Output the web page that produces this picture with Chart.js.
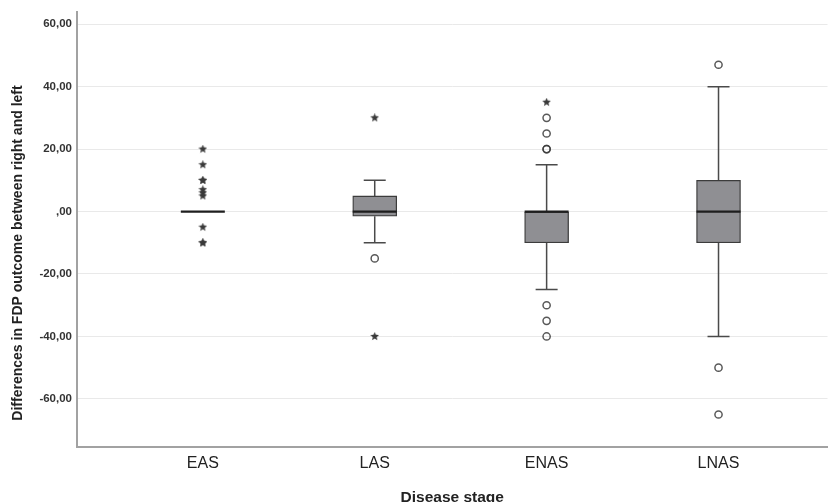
<!DOCTYPE html>
<html lang="en">
<head>
    <meta charset="UTF-8">
    <title>Differences in FDP outcome by disease stage</title>
    <script src="https://cdn.jsdelivr.net/npm/chart.js@4.4.0/dist/chart.umd.min.js"></script>
    <style>
        html, body { margin: 0; padding: 0; background: #fff; }
        #wrap { width: 833px; height: 502px; }
    </style>
</head>
<body>
<div id="wrap"><canvas id="boxChart" width="833" height="502"></canvas></div>

<script>
    // boxplot data
    const stages = ['EAS', 'LAS', 'ENAS', 'LNAS'];
    const whiskerLow  = [0, -10, -25, -40];
    const q1          = [0, -1.5, -10, -10];
    const median      = [0, 0, 0, 0];
    const q3          = [0, 5, 0, 10];
    const whiskerHigh = [0, 10, 15, 40];
    // outliers (circles) and extremes (stars) per stage
    const circleOutliers = [
        [],
        [-15],
        [30, 25, 20, 20, -30, -35, -40],
        [47, -50, -65]
    ];
    const starOutliers = [
        [20, 15, 10, 10, 7, 6, 5, -5, -10, -10],
        [30, -40],
        [35],
        []
    ];
    const yTicks = [-60, -40, -20, 0, 20, 40, 60];
    const yTitle = 'Differences in FDP outcome between right and left';

    // small filled star used for the extreme values
    function makeStar(size, color) {
        const c = document.createElement('canvas');
        c.width = size; c.height = size;
        const g = c.getContext('2d');
        const cx = size / 2, cy = size / 2, R = size / 2, r = R * 0.45;
        g.beginPath();
        for (let k = 0; k < 10; k++) {
            const rad = k % 2 === 0 ? R : r;
            const a = -Math.PI / 2 + k * Math.PI / 5;
            g.lineTo(cx + rad * Math.cos(a), cy + rad * Math.sin(a));
        }
        g.closePath();
        g.fillStyle = color;
        g.fill();
        return c;
    }
    const starImg = makeStar(9, '#3a3a3a');

    const fmt = v => {
        const s = Math.abs(v).toFixed(2).replace('.', ',');
        const t = Math.abs(v) < 1e-9 ? ',00' : s;
        return (v < 0 ? '-' : '') + t;
    };

    const BOX_W = 44, CAP_W = 22;
    const FONT = 'Liberation Sans, Arial, sans-serif';

    // whiskers, caps and medians drawn through the chart's scales
    const boxParts = {
        id: 'boxParts',
        beforeDatasetsDraw(chart) {
            const ctx = chart.ctx, xs = chart.scales.x, ys = chart.scales.y;
            ctx.save();
            ctx.strokeStyle = '#4a4a4a';
            ctx.lineWidth = 1.5;
            stages.forEach((s, i) => {
                if (whiskerHigh[i] === whiskerLow[i]) return;
                const x = xs.getPixelForValue(i + 1);
                ctx.beginPath();
                ctx.moveTo(x, ys.getPixelForValue(q3[i]));
                ctx.lineTo(x, ys.getPixelForValue(whiskerHigh[i]));
                ctx.moveTo(x, ys.getPixelForValue(q1[i]));
                ctx.lineTo(x, ys.getPixelForValue(whiskerLow[i]));
                ctx.moveTo(x - CAP_W / 2, ys.getPixelForValue(whiskerHigh[i]));
                ctx.lineTo(x + CAP_W / 2, ys.getPixelForValue(whiskerHigh[i]));
                ctx.moveTo(x - CAP_W / 2, ys.getPixelForValue(whiskerLow[i]));
                ctx.lineTo(x + CAP_W / 2, ys.getPixelForValue(whiskerLow[i]));
                ctx.stroke();
            });
            ctx.restore();
        },
        afterDatasetDraw(chart, args) {
            if (args.index !== 0) return;
            const ctx = chart.ctx, xs = chart.scales.x, ys = chart.scales.y;
            ctx.save();
            ctx.strokeStyle = '#1e1e1e';
            ctx.lineWidth = 2.2;
            stages.forEach((s, i) => {
                const x = xs.getPixelForValue(i + 1);
                const y = ys.getPixelForValue(median[i]);
                ctx.beginPath();
                ctx.moveTo(x - BOX_W / 2, y);
                ctx.lineTo(x + BOX_W / 2, y);
                ctx.stroke();
            });
            ctx.restore();
        },
        // SPSS places the vertical title a bit below the plot centre
        afterDraw(chart) {
            const ctx = chart.ctx;
            ctx.save();
            ctx.translate(18.5, 253);
            ctx.rotate(-Math.PI / 2);
            ctx.font = 'bold 14px ' + FONT;
            ctx.fillStyle = '#222';
            ctx.textAlign = 'center';
            ctx.textBaseline = 'middle';
            ctx.fillText(yTitle, 0, 0);
            ctx.restore();
        }
    };

    const boxData = stages.map((s, i) => ({ x: i + 1, y: [q1[i], q3[i]] }));
    const circlePts = [], starPts = [];
    stages.forEach((s, i) => {
        circleOutliers[i].forEach(v => circlePts.push({ x: i + 1, y: v }));
        starOutliers[i].forEach(v => starPts.push({ x: i + 1, y: v }));
    });

    new Chart(document.getElementById('boxChart'), {
        type: 'bar',
        data: {
            datasets: [{
                type: 'bar',
                data: boxData,
                backgroundColor: '#8f8f93',
                borderColor: '#3c3c3c',
                borderWidth: 1.3,
                borderSkipped: false,
                barThickness: BOX_W
            }, {
                type: 'scatter',
                data: circlePts,
                pointStyle: 'circle',
                pointRadius: 3.6,
                pointBorderWidth: 1.5,
                pointBorderColor: 'rgba(60,60,60,0.85)',
                pointBackgroundColor: 'rgba(0,0,0,0)'
            }, {
                type: 'scatter',
                data: starPts,
                pointStyle: starImg,
                pointRadius: 4.5
            }]
        },
        options: {
            responsive: false,
            animation: false,
            layout: { padding: { top: 12, right: 0, left: 0, bottom: 0 } },
            plugins: { legend: { display: false }, tooltip: { enabled: false } },
            scales: {
                x: {
                    type: 'linear',
                    min: 0.268,
                    max: 4.634,
                    offset: false,
                    afterBuildTicks: sc => { sc.ticks = stages.map((s, i) => ({ value: i + 1 })); },
                    afterFit: sc => { sc.height = 55; },
                    grid: { display: false, drawTicks: false },
                    border: { display: true, color: '#a2a2a2', width: 2 },
                    ticks: {
                        callback: v => stages[v - 1],
                        color: '#222',
                        font: { family: FONT, size: 16 },
                        padding: 7,
                        maxRotation: 0,
                        autoSkip: false
                    },
                    title: {
                        display: true,
                        text: 'Disease stage',
                        color: '#222',
                        font: { family: FONT, size: 15.5, weight: 'bold' },
                        padding: { top: 17, bottom: -5 }
                    }
                },
                y: {
                    min: -75.4,
                    max: 63.9,
                    afterBuildTicks: sc => { sc.ticks = yTicks.map(v => ({ value: v })); },
                    afterFit: sc => { sc.width = 77; },
                    grid: { color: '#e9e9e9', lineWidth: 1, drawTicks: false },
                    border: { display: true, color: '#a2a2a2', width: 2 },
                    ticks: {
                        callback: v => fmt(v),
                        color: '#333',
                        font: { family: FONT, size: 11.5, weight: 'bold' },
                        padding: 5
                    },
                    title: { display: false }
                }
            }
        },
        plugins: [boxParts]
    });
</script>
</body>
</html>
